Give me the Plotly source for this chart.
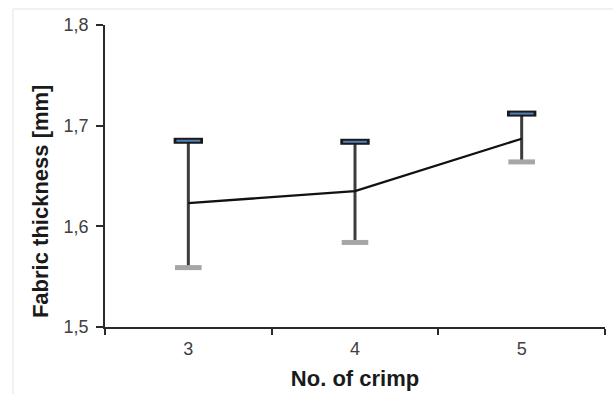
import plotly.graph_objects as go

crimp = ["3", "4", "5"]
thickness_mean = [1.623, 1.635, 1.687]
err_plus = [0.062, 0.049, 0.025]
err_minus = [0.064, 0.051, 0.023]

upper = [m + e for m, e in zip(thickness_mean, err_plus)]
lower = [m - e for m, e in zip(thickness_mean, err_minus)]

fig = go.Figure()

# stems (error bars) and mean line
fig.add_trace(go.Scatter(
    x=crimp, y=thickness_mean, mode="lines",
    line=dict(color="#111111", width=2.3),
    error_y=dict(type="data", symmetric=False, array=err_plus, arrayminus=err_minus,
                 color="#3c3c3c", thickness=3, width=0),
    showlegend=False, hoverinfo="skip"))

# upper caps: dark outline + blue fill
fig.add_trace(go.Scatter(
    x=crimp, y=upper, mode="markers",
    marker=dict(symbol="line-ew", size=21, line=dict(color="#1a1a1a", width=6)),
    showlegend=False, hoverinfo="skip"))
fig.add_trace(go.Scatter(
    x=crimp, y=upper, mode="markers",
    marker=dict(symbol="line-ew", size=17, line=dict(color="#4f81bd", width=2)),
    showlegend=False, hoverinfo="skip"))

# lower caps: gray
fig.add_trace(go.Scatter(
    x=crimp, y=lower, mode="markers",
    marker=dict(symbol="line-ew", size=19, line=dict(color="#a6a6a6", width=5)),
    showlegend=False, hoverinfo="skip"))

fig.update_layout(
    width=613, height=394,
    margin=dict(l=105, r=8, t=25, b=67),
    paper_bgcolor="white", plot_bgcolor="white",
    separators=", ",
    font=dict(family="Liberation Sans, Arial, sans-serif", color="#404040"),
    shapes=[dict(type="rect", xref="paper", yref="paper",
                 x0=-0.184, y0=-0.4, x1=1.2, y1=1.053,
                 line=dict(color="#e3e3e3", width=1), fillcolor="rgba(0,0,0,0)", layer="below")],
    annotations=[dict(text="<b>Fabric thickness [mm]</b>", textangle=-90,
                      xref="paper", yref="paper", x=-0.13, y=0.417,
                      xanchor="center", yanchor="middle", showarrow=False,
                      font=dict(size=22, color="#1a1a1a"))],
)

fig.update_xaxes(
    type="category", range=[-0.5, 2.5], tickson="boundaries",
    showline=True, linecolor="#2a2a2a", linewidth=1.5,
    ticks="outside", ticklen=6, tickwidth=1.5, tickcolor="#2a2a2a",
    showgrid=False, zeroline=False,
    tickfont=dict(size=18, color="#404040"), ticklabelstandoff=5,
    title=dict(text="<b>No. of crimp</b>", font=dict(size=22, color="#1a1a1a"), standoff=12),
)
fig.update_yaxes(
    range=[1.5, 1.8], tickvals=[1.5, 1.6, 1.7, 1.8], tickformat=".1f",
    showline=True, linecolor="#2a2a2a", linewidth=1.5,
    ticks="outside", ticklen=7, tickwidth=1.5, tickcolor="#2a2a2a",
    showgrid=False, zeroline=False,
    tickfont=dict(size=18, color="#404040"), ticklabelstandoff=4,
)

fig.write_html("out.html")
